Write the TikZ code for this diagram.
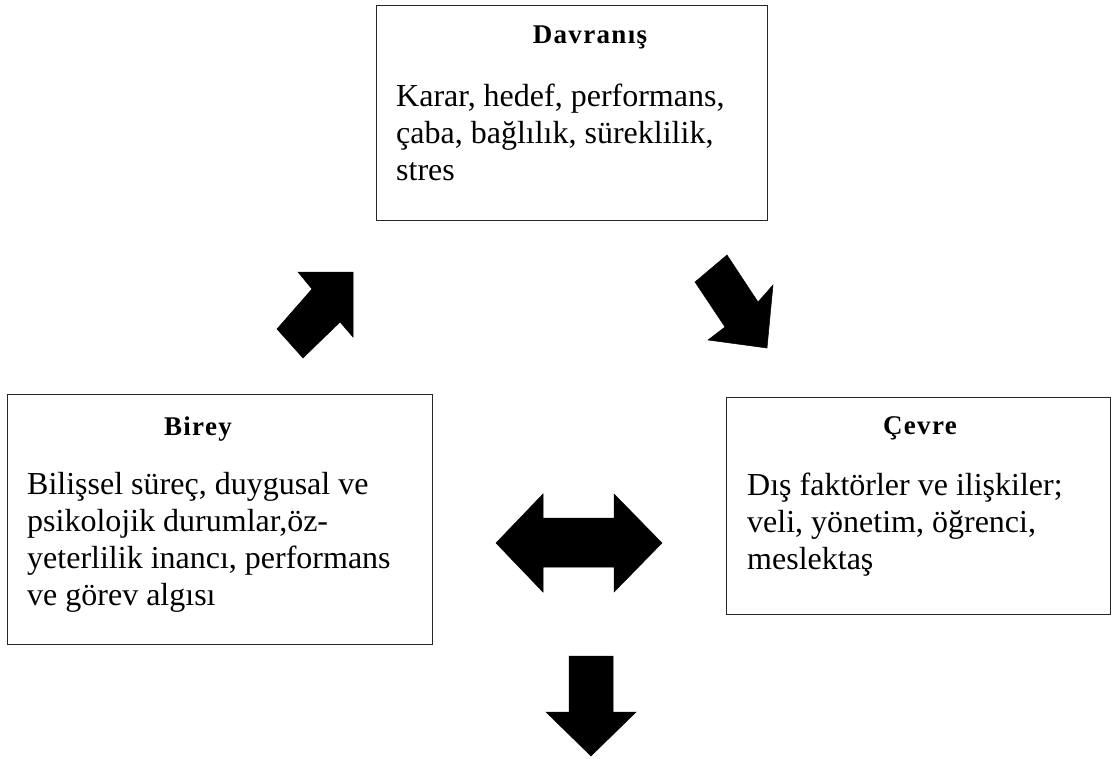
\documentclass[tikz,border=0pt]{standalone}
\usepackage{fontspec}
\setmainfont{Liberation Serif}
\usepackage{tikz}
\usetikzlibrary{positioning}

\begin{document}
\begin{tikzpicture}[x=1pt, y=-1pt,
    box/.style={draw=black!85, line width=1pt, rectangle, anchor=north west, inner sep=0pt},
    title/.style={font=\fontsize{27}{30}\selectfont\bfseries\addfontfeature{LetterSpace=5}, anchor=base, inner sep=0pt},
    body/.style={font=\fontsize{32}{37}\selectfont, align=left, anchor=north west, inner sep=0pt},
    blockarrow/.style={fill=black, draw=black, line width=0.5pt, line join=miter}]
    \useasboundingbox (0,0) rectangle (1113,758);

    \node[box, minimum width=391pt, minimum height=215pt] (davranis) at (376,5) {};
    \node[box, minimum width=425pt, minimum height=250pt] (birey) at (7,394) {};
    \node[box, minimum width=384pt, minimum height=217pt] (cevre) at (726,397) {};

    \node[title] (davranistitle) at (590,43) {Davranış};
    \node[title] (bireytitle) at (198,435) {Birey};
    \node[title] (cevretitle) at (920,434) {Çevre};

    \node[body] (davranistext) at (396,84) {Karar, hedef, performans,\\çaba, bağlılık, süreklilik,\\stres};
    \node[body] (bireytext) at (27,472) {Bilişsel süreç, duygusal ve\\psikolojik durumlar,öz-\\yeterlilik inancı, performans\\ve görev algısı};
    \node[body] (cevretext) at (747,473) {Dış faktörler ve ilişkiler;\\veli, yönetim, öğrenci,\\meslektaş};

    \filldraw[blockarrow] (277,329) -- (312,289) -- (298,272) -- (353,272) -- (353,337) -- (340,322) -- (303,358) -- cycle;
    \filldraw[blockarrow] (727,255) -- (758,302) -- (773,285) -- (767,348) -- (708,340) -- (725,327) -- (695,282) -- cycle;
    \filldraw[blockarrow] (496,543) -- (543,494) -- (543,518) -- (614,518) -- (614,494) -- (662,543) -- (614,592) -- (614,567) -- (543,567) -- (543,592) -- cycle;
    \filldraw[blockarrow] (569,656) -- (613,656) -- (613,712) -- (636,712) -- (591,756) -- (546,712) -- (569,712) -- cycle;
\end{tikzpicture}
\end{document}
